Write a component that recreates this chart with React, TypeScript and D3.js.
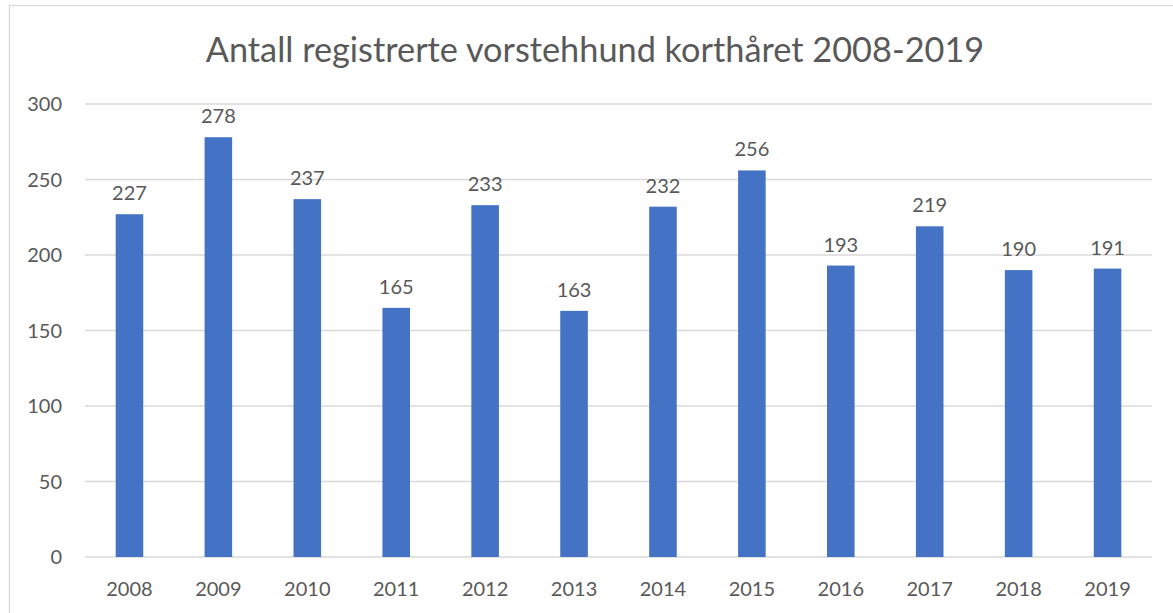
import React from "react";
import * as d3 from "d3";

const years = ["2008","2009","2010","2011","2012","2013","2014","2015","2016","2017","2018","2019"];
const counts = [227, 278, 237, 165, 233, 163, 232, 256, 193, 219, 190, 191];
const yTicks = [0, 50, 100, 150, 200, 250, 300];
const title = "Antall registrerte vorstehhund korthåret 2008-2019";

const W = 1173, H = 613;
const plot = { left: 85, right: 1152, top: 104, bottom: 557 };
const FONT = "Lato, 'Open Sans', sans-serif";
const TEXT = "#595959";

export default function App() {
  const x = d3.scaleBand<string>().domain(years).range([plot.left, plot.right]).paddingInner(0.69).paddingOuter(0.345);
  const y = d3.scaleLinear().domain([0, 300]).range([plot.bottom, plot.top]);
  return (
    <svg width={W} height={H} style={{ position: "absolute", left: 0, top: 0, background: "#fff" }} fontFamily={FONT}>
      <rect x={9.5} y={5.5} width={W + 20} height={H + 20} fill="#fff" stroke="#d9d9d9" strokeWidth={1.3} />
      <text x={595} y={62} textAnchor="middle" fontSize={34.3} fill={TEXT}>{title}</text>
      {yTicks.map(t => (
        <g key={t}>
          <line x1={plot.left} x2={plot.right} y1={y(t)} y2={y(t)} stroke="#d9d9d9" strokeWidth={1.3} />
          <text x={62} y={y(t)} dy="0.35em" textAnchor="end" fontSize={20} fill={TEXT}>{t}</text>
        </g>
      ))}
      {years.map((yr, i) => (
        <g key={yr}>
          <rect x={x(yr)} y={y(counts[i])} width={x.bandwidth()} height={y(0) - y(counts[i])} fill="#4472C4" />
          <text x={(x(yr) as number) + x.bandwidth() / 2} y={y(counts[i]) - 14} textAnchor="middle" fontSize={20} fill={TEXT}>{counts[i]}</text>
          <text x={(x(yr) as number) + x.bandwidth() / 2} y={596} textAnchor="middle" fontSize={20} fill={TEXT}>{yr}</text>
        </g>
      ))}
    </svg>
  );
}
